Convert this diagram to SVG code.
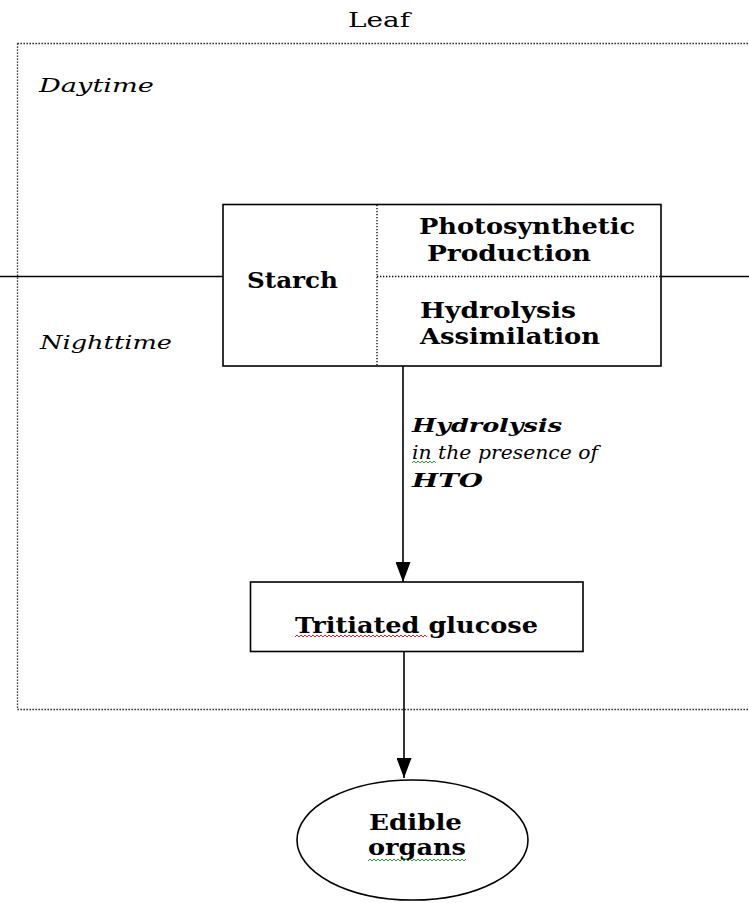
<svg xmlns="http://www.w3.org/2000/svg" width="749" height="903" viewBox="0 0 749 903">
<style>
.bg{fill:#fff}
.dot{fill:none;stroke:#000;stroke-width:1.3;stroke-dasharray:1.3 1.7}
.box{fill:#fff;stroke:#000;stroke-width:1.6}
.ln{fill:none;stroke:#000;stroke-width:1.6}
.b{font-family:"DejaVu Serif","Liberation Serif",serif;font-weight:bold;font-size:22px;fill:#000}
.i{font-family:"DejaVu Serif","Liberation Serif",serif;font-style:italic;font-size:19px;fill:#000}
.bi{font-family:"DejaVu Serif","Liberation Serif",serif;font-style:italic;font-weight:bold;font-size:19px;fill:#000}
.t{font-family:"DejaVu Serif","Liberation Serif",serif;font-size:21px;fill:#000}
.sq{fill:none;stroke-width:1}
</style>
<defs>
<marker id="ah" markerWidth="20" markerHeight="15" refX="20" refY="7.5" orient="auto" markerUnits="userSpaceOnUse">
<path d="M0,0 L20,7.5 L0,15 Z" fill="#000"/>
</marker>
</defs>
<rect class="bg" x="0" y="0" width="749" height="903"/>

<g id="leaf">
<path class="dot" d="M17.5,43.5 H749 M17.5,43.5 V709.5 H749"/>
<text class="t" x="348" y="27" textLength="62" lengthAdjust="spacingAndGlyphs">Leaf</text>
<text class="i" x="39" y="92" textLength="115" lengthAdjust="spacingAndGlyphs">Daytime</text>
<text class="i" x="40" y="349" textLength="132" lengthAdjust="spacingAndGlyphs">Nighttime</text>
</g>

<g id="connectors">
<line class="ln" x1="0" y1="276.5" x2="223" y2="276.5"/>
<line class="ln" x1="661" y1="276.5" x2="749" y2="276.5"/>
<line class="ln" x1="403" y1="366" x2="403" y2="582" marker-end="url(#ah)"/>
<line class="ln" x1="404" y1="652" x2="404" y2="778" marker-end="url(#ah)"/>
<g id="hydrolysis-label">
<text class="bi" x="412" y="432" textLength="150" lengthAdjust="spacingAndGlyphs">Hydrolysis</text>
<text class="i" x="412" y="459" textLength="186" lengthAdjust="spacingAndGlyphs">in the presence of</text>
<text class="bi" x="412" y="487" textLength="71" lengthAdjust="spacingAndGlyphs">HTO</text>
<polyline class="sq" stroke="#2a9d2a" points="412,463 414,461 416,463 418,461 420,463 422,461 424,463 426,461 428,463 430,461 432,463 434,461 436,463"/>
</g>
</g>

<g id="starch">
<rect class="box" x="223" y="204.5" width="438" height="161.5"/>
<line class="dot" x1="377" y1="205" x2="377" y2="365"/>
<line class="dot" x1="377" y1="276.5" x2="660" y2="276.5"/>
<text class="b" x="247" y="288" textLength="91" lengthAdjust="spacingAndGlyphs">Starch</text>
<text class="b" x="419" y="234" textLength="216" lengthAdjust="spacingAndGlyphs">Photosynthetic</text>
<text class="b" x="427" y="261" textLength="164" lengthAdjust="spacingAndGlyphs">Production</text>
<text class="b" x="420" y="318" textLength="156" lengthAdjust="spacingAndGlyphs">Hydrolysis</text>
<text class="b" x="420" y="344" textLength="180" lengthAdjust="spacingAndGlyphs">Assimilation</text>
</g>

<g id="glucose">
<rect class="box" x="250.5" y="582" width="332.5" height="69.5"/>
<text class="b" x="295" y="633" textLength="243" lengthAdjust="spacingAndGlyphs">Tritiated glucose</text>
<polyline class="sq" stroke="#e02020" points="295,637 297,635 299,637 301,635 303,637 305,635 307,637 309,635 311,637 313,635 315,637 317,635 319,637 321,635 323,637 325,635 327,637 329,635 331,637 333,635 335,637 337,635 339,637 341,635 343,637 345,635 347,637 349,635 351,637 353,635 355,637 357,635 359,637 361,635 363,637 365,635 367,637 369,635 371,637 373,635 375,637 377,635 379,637 381,635 383,637 385,635 387,637 389,635 391,637 393,635 395,637 397,635 399,637 401,635 403,637 405,635 407,637 409,635 411,637 413,635 415,637 417,635 419,637 421,635 423,637 425,635 427,637"/>
</g>

<g id="edible">
<ellipse class="box" cx="412.5" cy="840" rx="115.5" ry="60"/>
<text class="b" x="369" y="830" textLength="93" lengthAdjust="spacingAndGlyphs">Edible</text>
<text class="b" x="368" y="855" textLength="98" lengthAdjust="spacingAndGlyphs">organs</text>
<polyline class="sq" stroke="#2a9d2a" points="368,861 370,859 372,861 374,859 376,861 378,859 380,861 382,859 384,861 386,859 388,861 390,859 392,861 394,859 396,861 398,859 400,861 402,859 404,861 406,859 408,861 410,859 412,861 414,859 416,861 418,859 420,861 422,859 424,861 426,859 428,861 430,859 432,861 434,859 436,861 438,859 440,861 442,859 444,861 446,859 448,861 450,859 452,861 454,859 456,861 458,859 460,861 462,859 464,861 466,859"/>
</g>
</svg>
